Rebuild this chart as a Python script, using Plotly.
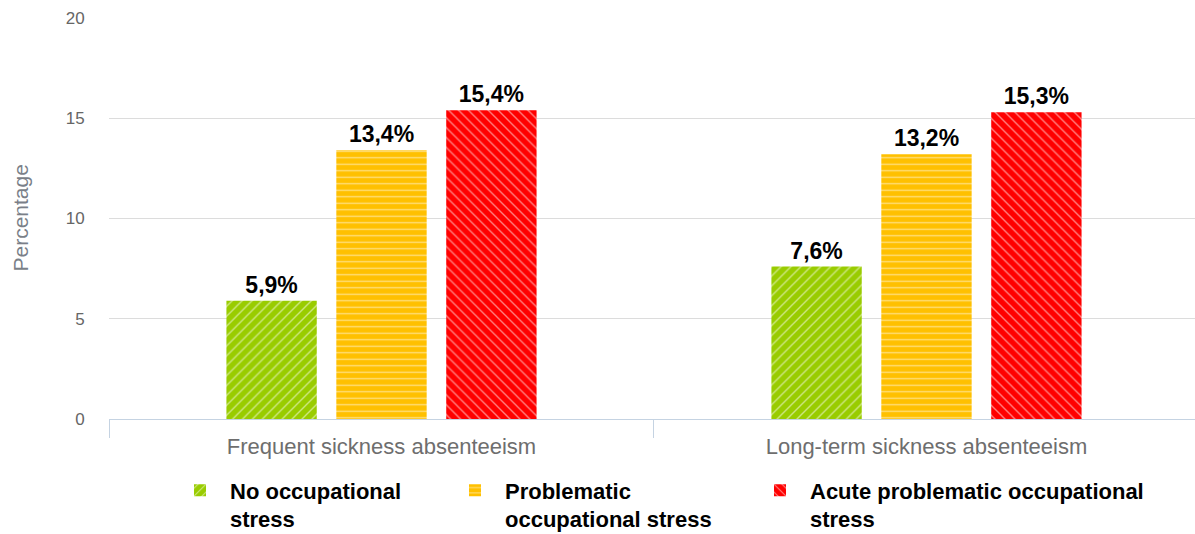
import plotly.graph_objects as go

categories = ["Frequent sickness absenteeism", "Long-term sickness absenteeism"]
series_names = [
    "No occupational<br>stress",
    "Problematic<br>occupational stress",
    "Acute problematic occupational<br>stress",
]
no_stress = [5.9, 7.6]
problematic = [13.4, 13.2]
acute = [15.4, 15.3]
y_ticks = [0, 5, 10, 15, 20]

colors = ["#99cc00", "#ffc000", "#ff0000"]
shapes = ["/", "-", "\\"]
pattern_sizes = [7, 6.5, 7]
legend_ids = ["legend", "legend2", "legend3"]
legend_x = [170, 445, 750]


def pct(v):
    return f"{v:.1f}%".replace(".", ",")


fig = go.Figure()
for name, vals, col, shp, psz, lg in zip(
    series_names, [no_stress, problematic, acute], colors, shapes, pattern_sizes, legend_ids
):
    fig.add_trace(go.Bar(
        x=categories,
        y=vals,
        name=name,
        legend=lg,
        text=[pct(v) for v in vals],
        textposition="outside",
        cliponaxis=False,
        textfont=dict(family="Liberation Sans, Arial", size=23, color="#000000", weight="bold"),
        marker=dict(
            color=col,
            line=dict(width=0),
            pattern=dict(shape=shp, fgcolor="#ffffff", fgopacity=0.5, size=psz, solidity=0.2),
        ),
    ))

legend_common = dict(
    orientation="v",
    xref="container",
    yref="container",
    y=0.121,
    yanchor="top",
    xanchor="left",
    valign="top",
    itemwidth=50,
    bgcolor="rgba(0,0,0,0)",
    font=dict(family="Liberation Sans, Arial", size=22, color="#000000", weight="bold"),
)

fig.update_layout(
    width=1195,
    height=534,
    margin=dict(l=109, r=0, t=18, b=115, autoexpand=False),
    paper_bgcolor="#ffffff",
    plot_bgcolor="#ffffff",
    barmode="group",
    bargap=0.395,
    bargroupgap=0.178,
    showlegend=True,
    legend=dict(legend_common, x=legend_x[0] / 1195),
    legend2=dict(legend_common, x=legend_x[1] / 1195),
    legend3=dict(legend_common, x=legend_x[2] / 1195),
    xaxis=dict(
        type="category",
        range=[-0.5, 1.4927],
        automargin=False,
        tickangle=0,
        showline=True,
        linecolor="#c5d3e2",
        linewidth=1,
        ticks="outside",
        tickson="boundaries",
        ticklen=18,
        tickcolor="#c5d3e2",
        ticklabelstandoff=8,
        showgrid=False,
        tickfont=dict(family="Liberation Sans, Arial", size=22, color="#6e6e6e"),
    ),
    yaxis=dict(
        automargin=False,
        range=[0, 20],
        tickvals=y_ticks,
        ticktext=[str(t) for t in y_ticks],
        showgrid=True,
        gridcolor="#dcdcdc",
        gridwidth=1,
        zeroline=False,
        showline=False,
        ticks="outside",
        ticklen=20,
        tickcolor="rgba(0,0,0,0)",
        tickfont=dict(family="Liberation Sans, Arial", size=17, color="#666666"),
    ),
    annotations=[dict(
        text="Percentage",
        xref="paper", yref="paper",
        x=0, y=0.5,
        xshift=-89,
        xanchor="center", yanchor="middle",
        textangle=-90,
        showarrow=False,
        font=dict(family="Liberation Sans, Arial", size=21, color="#7a7f88"),
    )],
)

fig.write_html("out.html")
